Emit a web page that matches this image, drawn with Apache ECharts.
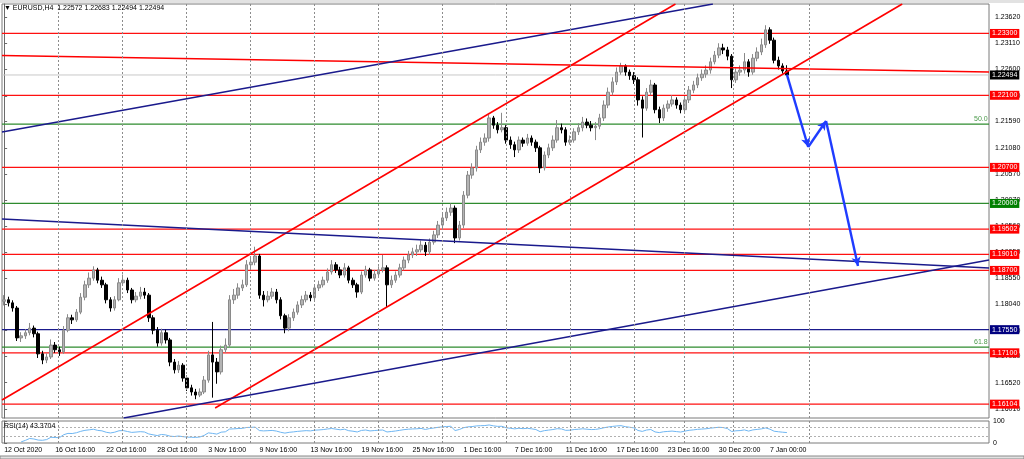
<!DOCTYPE html>
<html><head><meta charset="utf-8">
<script src="https://cdn.jsdelivr.net/npm/echarts@6/dist/echarts.min.js"></script>
<style>html,body{margin:0;padding:0;background:#fff}#c{width:1024px;height:459px}</style>
</head><body><div id="c"></div>
<script>
// ---------------- DATA ----------------
const symbolName = 'EURUSD,H4';
const tickLabels = ['12 Oct 2020','16 Oct 16:00','22 Oct 16:00','28 Oct 16:00','3 Nov 16:00','9 Nov 16:00',
  '13 Nov 16:00','19 Nov 16:00','25 Nov 16:00','1 Dec 16:00','7 Dec 16:00','11 Dec 16:00',
  '17 Dec 16:00','23 Dec 16:00','30 Dec 20:00','7 Jan 00:00'];
const barsPerLabel = 12;      // candles between two time labels
const totalBars = 232;        // candles + empty space on the right
const firstOpen = 1.1810;
const closes = [
1.1813,1.1807,1.1797,1.1739,1.1743,1.1749,1.1758,1.1747,1.1708,1.1696,
1.1702,1.1725,1.1716,1.1712,1.1754,1.1778,1.1774,1.1789,1.1818,1.1842,
1.1855,1.1871,1.1851,1.1842,1.1813,1.1797,1.1813,1.1846,1.1851,1.1832,
1.1813,1.1820,1.1828,1.1822,1.1778,1.1754,1.1729,1.1749,1.1735,1.1692,
1.1677,1.1686,1.1661,1.1642,1.1634,1.1628,1.1634,1.1657,1.1706,1.1692,
1.1673,1.1716,1.1725,1.1813,1.1822,1.1836,1.1842,1.1881,1.1886,1.1898,
1.1822,1.1813,1.1820,1.1828,1.1813,1.1782,1.1758,1.1778,1.1789,1.1803,
1.1813,1.1822,1.1817,1.1836,1.1842,1.1851,1.1867,1.1881,1.1871,1.1861,
1.1875,1.1851,1.1842,1.1828,1.1861,1.1871,1.1855,1.1863,1.1871,1.1875,
1.1842,1.1851,1.1861,1.1875,1.1890,1.1900,1.1906,1.1910,1.1919,1.1906,
1.1925,1.1939,1.1958,1.1972,1.1983,1.1991,1.1933,1.1958,1.2016,1.2055,
1.2069,1.2104,1.2119,1.2127,1.2166,1.2152,1.2143,1.2147,1.2123,1.2114,
1.2104,1.2123,1.2117,1.2127,1.2119,1.2108,1.2069,1.2094,1.2108,1.2123,
1.2147,1.2143,1.2119,1.2123,1.2139,1.2147,1.2158,1.2152,1.2147,1.2150,
1.2166,1.2191,1.2216,1.2236,1.2255,1.2267,1.2255,1.2248,1.2240,1.2201,
1.2185,1.2216,1.2230,1.2182,1.2166,1.2185,1.2193,1.2201,1.2191,1.2182,
1.2201,1.2220,1.2230,1.2244,1.2251,1.2259,1.2275,1.2288,1.2302,1.2298,
1.2286,1.2240,1.2255,1.2259,1.2275,1.2255,1.2282,1.2294,1.2308,1.2337,
1.2317,1.2278,1.2267,1.22572,1.22494];
const highs = [
1.1822,1.1819,1.1812,1.1801,1.1750,1.1756,1.1768,1.1763,1.1751,1.1714,
1.1709,1.1736,1.1731,1.1722,1.1762,1.1785,1.1784,1.1795,1.1826,1.1850,
1.1866,1.1878,1.1875,1.1858,1.1846,1.1818,1.1820,1.1855,1.1862,1.1856,
1.1836,1.1828,1.1838,1.1836,1.1826,1.1783,1.1760,1.1757,1.1755,1.1739,
1.1698,1.1694,1.1690,1.1666,1.1648,1.1640,1.1641,1.1665,1.1714,1.1770,
1.1700,1.1724,1.1738,1.1822,1.1834,1.1845,1.1852,1.1890,1.1898,1.1916,
1.1902,1.1830,1.1830,1.1836,1.1834,1.1818,1.1786,1.1785,1.1796,1.1810,
1.1821,1.1830,1.1828,1.1843,1.1850,1.1858,1.1874,1.1890,1.1886,1.1877,
1.1884,1.1879,1.1856,1.1846,1.1868,1.1879,1.1875,1.1871,1.1878,1.1900,
1.1880,1.1860,1.1868,1.1883,1.1897,1.1908,1.1914,1.1920,1.1928,1.1925,
1.1932,1.1947,1.1966,1.1980,1.1992,1.2000,1.1996,1.1966,1.2024,1.2063,
1.2078,1.2112,1.2128,1.2136,1.2172,1.2170,1.2158,1.2176,1.2152,1.2130,
1.2120,1.2130,1.2128,1.2135,1.2132,1.2124,1.2112,1.2101,1.2116,1.2132,
1.2162,1.2155,1.2148,1.2132,1.2146,1.2156,1.2168,1.2165,1.2160,1.2158,
1.2174,1.2200,1.2225,1.2245,1.2264,1.2273,1.2270,1.2260,1.2255,1.2245,
1.2208,1.2224,1.2240,1.2234,1.2188,1.2192,1.2200,1.2210,1.2206,1.2196,
1.2208,1.2228,1.2238,1.2252,1.2260,1.2268,1.2283,1.2296,1.2311,1.2310,
1.2304,1.2290,1.2262,1.2268,1.2292,1.2280,1.2290,1.2303,1.2320,1.2346,
1.2342,1.2322,1.2285,1.2272,1.22683];
const lows = [
1.1802,1.1800,1.1790,1.1733,1.1731,1.1737,1.1744,1.1740,1.1700,1.1688,
1.1690,1.1698,1.1710,1.1704,1.1708,1.1750,1.1766,1.1770,1.1785,1.1812,
1.1836,1.1850,1.1845,1.1836,1.1806,1.1790,1.1792,1.1810,1.1840,1.1826,
1.1806,1.1808,1.1814,1.1815,1.1770,1.1746,1.1722,1.1724,1.1728,1.1684,
1.1670,1.1671,1.1654,1.1636,1.1627,1.1620,1.1624,1.1630,1.1652,1.1623,
1.1650,1.1668,1.1710,1.1720,1.1805,1.1815,1.1830,1.1838,1.1874,1.1880,
1.1815,1.1800,1.1808,1.1815,1.1806,1.1775,1.1748,1.1752,1.1772,1.1784,
1.1797,1.1808,1.1810,1.1812,1.1830,1.1837,1.1846,1.1862,1.1865,1.1855,
1.1856,1.1845,1.1836,1.1817,1.1824,1.1856,1.1849,1.1850,1.1858,1.1866,
1.1799,1.1836,1.1846,1.1856,1.1870,1.1884,1.1894,1.1898,1.1905,1.1898,
1.1900,1.1920,1.1933,1.1952,1.1966,1.1976,1.1923,1.1928,1.1952,1.2010,
1.2048,1.2062,1.2098,1.2112,1.2120,1.2145,1.2136,1.2138,1.2116,1.2106,
1.2090,1.2098,1.2110,1.2112,1.2112,1.2100,1.2059,1.2064,1.2088,1.2102,
1.2118,1.2136,1.2112,1.2114,1.2118,1.2133,1.2140,1.2146,1.2140,1.2123,
1.2144,1.2160,1.2185,1.2210,1.2230,1.2250,1.2248,1.2240,1.2232,1.2190,
1.2128,1.2180,1.2210,1.2175,1.2156,1.2160,1.2178,1.2188,1.2184,1.2175,
1.2176,1.2195,1.2214,1.2224,1.2238,1.2244,1.2252,1.2270,1.2282,1.2290,
1.2278,1.2224,1.2234,1.2248,1.2252,1.2246,1.2250,1.2276,1.2288,1.2302,
1.2310,1.2272,1.2260,1.2252,1.22494];

const priceTicks = [1.23620,1.23110,1.22600,1.22090,1.21590,1.21080,1.20570,1.20070,
  1.19560,1.19050,1.18550,1.18040,1.17530,1.17030,1.16520,1.16010];
const priceMin = 1.15835, priceMax = 1.23872;
const redLevels = [1.23300,1.22100,1.20700,1.19502,1.19010,1.18700,1.17100,1.16104];
const navyLevels = [1.17550];
const greenLevels = [1.20000];
const fiboNames = ['50.0','61.8'];
const fiboValues = [1.2154,1.1721];
// trend lines: [[barFrom, priceFrom],[barTo, priceTo]]
const redTrends = [
  [[-0.5,1.22873],[231.5,1.22553]],
  [[-0.5,1.16185],[157.8,1.23872]],
  [[49.6,1.16029],[211.1,1.23872]]
];
const navyTrends = [
  [[-0.5,1.21387],[166.6,1.23872]],
  [[-0.5,1.19699],[231.5,1.18747]],
  [[28.1,1.15835],[231.5,1.18903]]
];
const forecastPath = [[184.0,1.2250],[189.0,1.21096],[193.2,1.21601],[200.7,1.18786]];
const timeGridBars = [12.66,27.71,42.75,57.8,72.84,87.89,102.93,117.98,133.02,148.07,159.82,171.34,189.2];
const rsiPeriod = 14;
const rsiShown = 43.3704;
const rsiTicks = [0,30,70,100];
const rsiLevels = [70,30];

// ---------------- BUILD ----------------
const FONT = 'Liberation Sans, Arial, sans-serif';
const categories = Array.from({length: totalBars}, (_, i) => 'bar' + i);
const opens = closes.map((c, i) => i === 0 ? firstOpen : closes[i - 1]);
const ohlc = closes.map((c, i) => [opens[i], c, lows[i], highs[i]]);
const last = closes.length - 1;
const lastPrice = closes[last];

function computeRSI(src, n) {
  const out = [];
  let ag = 0, al = 0;
  for (let i = 0; i < src.length; i++) {
    if (i === 0) { out.push('-'); continue; }
    const d = src[i] - src[i - 1];
    const g = d > 0 ? d : 0, l = d < 0 ? -d : 0;
    const k = Math.min(i, n);
    ag = (ag * (k - 1) + g) / k; al = (al * (k - 1) + l) / k;
    out.push(i < 4 ? '-' : (al === 0 ? 100 : +(100 - 100 / (1 + ag / al)).toFixed(2)));
  }
  return out;
}
const rsi = computeRSI(closes, rsiPeriod);

// horizontal levels drawn as two-point line series on the value x axis
function levelSeries(v, lineColor, boxColor, textColor, width) {
  return {
    type: 'line', xAxisIndex: 1, yAxisIndex: 0, silent: true, z: 2,
    data: [[-0.5, v], [totalBars - 0.5, v]],
    showSymbol: false, symbol: 'none',
    lineStyle: {color: lineColor, width: width, type: 'solid'},
    itemStyle: {color: lineColor},
    endLabel: {show: true, distance: 1, formatter: () => v.toFixed(5),
      backgroundColor: boxColor, color: textColor, fontSize: 7, fontFamily: FONT,
      padding: [1, 2, 1, 2], lineHeight: 7}
  };
}
function fiboSeries(v, name) {
  return {
    type: 'line', xAxisIndex: 1, yAxisIndex: 0, silent: true, z: 2,
    data: [[-0.5, v], [totalBars - 0.5, v]], showSymbol: false, symbol: 'none',
    lineStyle: {color: '#2e8b2e', width: 1.2, type: 'solid'}, itemStyle: {color: '#2e8b2e'},
    endLabel: {show: true, distance: 1, formatter: () => name, offset: [-16, -5],
      color: '#4a9a4a', fontSize: 7, fontFamily: FONT}
  };
}
function segSeries(seg, color, width, z) {
  return {type: 'line', xAxisIndex: 1, yAxisIndex: 0, silent: true, z: z,
    data: seg, showSymbol: false, symbol: 'none',
    lineStyle: {color: color, width: width, type: 'solid'}, itemStyle: {color: color}};
}

const arrowPairs = forecastPath.slice(1).map((p, i) => [{coord: forecastPath[i]}, {coord: p}]);
const vGrid = timeGridBars.map(v => ({xAxis: v}));
const dotted = {color: '#8c8c8c', width: 1, type: [2, 2]};

const series = [
  {type: 'line', xAxisIndex: 1, yAxisIndex: 0, data: [], silent: true, z: 1,
    markLine: {silent: true, precision: 5, symbol: ['none', 'none'], label: {show: false}, lineStyle: dotted, data: vGrid}},
  {type: 'line', xAxisIndex: 3, yAxisIndex: 1, data: [], silent: true, z: 1,
    markLine: {silent: true, precision: 5, symbol: ['none', 'none'], label: {show: false}, lineStyle: dotted, data: vGrid}},
  levelSeries(lastPrice, '#c8c8c8', '#000000', '#ffffff', 1)
];
redLevels.forEach(v => series.push(levelSeries(v, '#ff1010', '#ff0000', '#ffffff', 1.2)));
greenLevels.forEach(v => series.push(levelSeries(v, '#2e8b2e', '#008000', '#ffffff', 1.2)));
navyLevels.forEach(v => series.push(levelSeries(v, '#1a1a8c', '#000080', '#ffffff', 1.2)));
fiboValues.forEach((v, i) => series.push(fiboSeries(v, fiboNames[i])));
series.push({type: 'candlestick', xAxisIndex: 0, yAxisIndex: 0, data: ohlc, barWidth: 3, silent: true, z: 3,
  itemStyle: {color: '#b4b4b4', color0: '#000000', borderColor: '#8a8a8a', borderColor0: '#000000', borderWidth: 1}});
redTrends.forEach(s => series.push(segSeries(s, '#ff0000', 1.6, 4)));
navyTrends.forEach(s => series.push(segSeries(s, '#1a1a8c', 1.6, 4)));
series.push({type: 'line', xAxisIndex: 1, yAxisIndex: 0, data: [], silent: true, z: 5,
  markLine: {silent: true, precision: 5, symbol: ['none', 'arrow'], symbolSize: [7, 9], label: {show: false},
    lineStyle: {color: '#1f3cff', width: 2.4, type: 'solid'}, data: arrowPairs}});
series.push({type: 'line', xAxisIndex: 2, yAxisIndex: 1, data: rsi, silent: true, showSymbol: false, z: 3,
  lineStyle: {color: '#6fb6f2', width: 1}, itemStyle: {color: '#6fb6f2'},
  markLine: {silent: true, precision: 5, symbol: ['none', 'none'], label: {show: false}, lineStyle: {color: '#b0b0b0', width: 1, type: [2, 2]},
    data: rsiLevels.map(v => ({yAxis: v}))}});

const chart = echarts.init(document.getElementById('c'), null, {renderer: 'canvas'});
chart.setOption({
  animation: false,
  backgroundColor: '#ffffff',
  textStyle: {fontFamily: FONT},
  title: [
    {text: '\u25BC ' + symbolName + '  ' + [opens[last], highs[last], lows[last], closes[last]].map(v => v.toFixed(5)).join(' '),
      left: 4, top: 5, padding: 0, textStyle: {fontSize: 7, fontWeight: 'normal', color: '#000', fontFamily: FONT}},
    {text: 'RSI(14) ' + rsiShown.toFixed(4), left: 4, top: 423, padding: 0,
      textStyle: {fontSize: 7, fontWeight: 'normal', color: '#000', fontFamily: FONT}}
  ],
  graphic: [
    {type: 'rect', silent: true, shape: {x: 0, y: 0, width: 1024, height: 3}, style: {fill: '#e2e2e2'}},
    {type: 'rect', silent: true, shape: {x: 0, y: 456, width: 1024, height: 3}, style: {fill: '#e2e2e2', stroke: '#8a8a8a', lineWidth: 1}}
  ],
  grid: [
    {left: 2, top: 4, width: 987, height: 414, show: true, borderColor: '#7a7a7a', borderWidth: 1, backgroundColor: '#fff'},
    {left: 2, top: 421, width: 987, height: 22, show: true, borderColor: '#7a7a7a', borderWidth: 1, backgroundColor: '#fff'}
  ],
  xAxis: [
    {type: 'category', gridIndex: 0, data: categories, boundaryGap: true,
      axisLine: {show: false}, axisTick: {show: false}, axisLabel: {show: false}, splitLine: {show: false}},
    {type: 'value', gridIndex: 0, min: -0.5, max: totalBars - 0.5, show: false},
    {type: 'category', gridIndex: 1, data: categories, boundaryGap: true,
      axisLine: {show: false}, axisTick: {show: false}, splitLine: {show: false},
      axisLabel: {show: true, align: 'left', margin: 4, fontSize: 7, color: '#000', fontFamily: FONT,
        interval: (i) => i % barsPerLabel === 0 && i / barsPerLabel < tickLabels.length,
        formatter: (v, i) => tickLabels[Math.round(i / barsPerLabel)] || ''}},
    {type: 'value', gridIndex: 1, min: -0.5, max: totalBars - 0.5, show: false}
  ],
  yAxis: [
    {type: 'value', gridIndex: 0, position: 'right', min: priceMin, max: priceMax, scale: true,
      axisLine: {show: true, lineStyle: {color: '#6a6a6a'}},
      axisTick: {show: true, length: 3, customValues: priceTicks, lineStyle: {color: '#6a6a6a'}},
      axisLabel: {show: true, customValues: priceTicks, margin: 6, fontSize: 7, color: '#000', fontFamily: FONT,
        formatter: v => v.toFixed(5)},
      splitLine: {show: false}},
    {type: 'value', gridIndex: 1, position: 'right', min: 0, max: 100,
      axisLine: {show: true, lineStyle: {color: '#6a6a6a'}},
      axisTick: {show: true, length: 3, customValues: rsiTicks, lineStyle: {color: '#6a6a6a'}},
      axisLabel: {show: true, customValues: rsiTicks, showMinLabel: true, showMaxLabel: true, hideOverlap: false,
        margin: 4, fontSize: 7, color: '#000', fontFamily: FONT},
      splitLine: {show: false}}
  ],
  series: series
});
</script></body></html>
